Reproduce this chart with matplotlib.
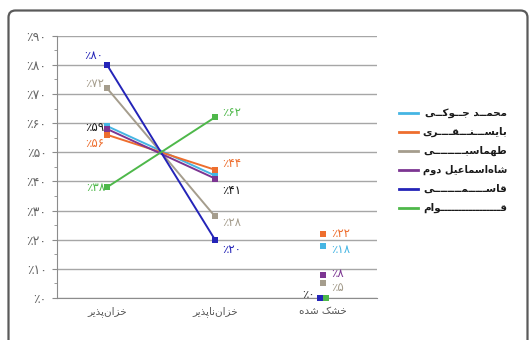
import matplotlib
matplotlib.use("Agg")
import matplotlib.pyplot as plt
from matplotlib.patches import PathPatch
from matplotlib.path import Path
from matplotlib.lines import Line2D
from matplotlib.transforms import IdentityTransform, ScaledTranslation

plt.rcParams['font.family'] = ['DejaVu Sans']

# ---------------- data ----------------
categories = ["خزان‌پذیر", "خزان‌ناپذیر", "خشک شده"]
series_names = ["محمـد جـوکـی", "بایسـنـقـــری", "طهماسبــــی",
                "شاه‌اسماعیل دوم", "قاسـمــــی", "قـــــوام"]
cyan_vals   = [59, 42, 18]
orange_vals = [56, 44, 22]
gray_vals   = [72, 28, 5]
purple_vals = [58, 41, 8]
blue_vals   = [80, 20, 0]
green_vals  = [38, 62, 0]
colors = ["#45b5e3", "#ee6e2e", "#a59d8d", "#7c3592", "#2424b8", "#4eb84a"]
y_ticks = [0, 10, 20, 30, 40, 50, 60, 70, 80, 90]

# ---------------- minimal Persian shaping ----------------
_F = {
    'ا': ('\uFE8D', '\uFE8E', None, None),
    'ب': ('\uFE8F', '\uFE90', '\uFE91', '\uFE92'),
    'پ': ('\uFB56', '\uFB57', '\uFB58', '\uFB59'),
    'ج': ('\uFE9D', '\uFE9E', '\uFE9F', '\uFEA0'),
    'ح': ('\uFEA1', '\uFEA2', '\uFEA3', '\uFEA4'),
    'خ': ('\uFEA5', '\uFEA6', '\uFEA7', '\uFEA8'),
    'د': ('\uFEA9', '\uFEAA', None, None),
    'ذ': ('\uFEAB', '\uFEAC', None, None),
    'ر': ('\uFEAD', '\uFEAE', None, None),
    'ز': ('\uFEAF', '\uFEB0', None, None),
    'س': ('\uFEB1', '\uFEB2', '\uFEB3', '\uFEB4'),
    'ش': ('\uFEB5', '\uFEB6', '\uFEB7', '\uFEB8'),
    'ط': ('\uFEC1', '\uFEC2', '\uFEC3', '\uFEC4'),
    'ع': ('\uFEC9', '\uFECA', '\uFECB', '\uFECC'),
    'ق': ('\uFED5', '\uFED6', '\uFED7', '\uFED8'),
    'ک': ('\uFB8E', '\uFB8F', '\uFB90', '\uFB91'),
    'ل': ('\uFEDD', '\uFEDE', '\uFEDF', '\uFEE0'),
    'م': ('\uFEE1', '\uFEE2', '\uFEE3', '\uFEE4'),
    'ن': ('\uFEE5', '\uFEE6', '\uFEE7', '\uFEE8'),
    'و': ('\uFEED', '\uFEEE', None, None),
    'ه': ('\uFEE9', '\uFEEA', '\uFEEB', '\uFEEC'),
    'ی': ('\uFBFC', '\uFBFD', '\uFBFE', '\uFBFF'),
    'ـ': ('\u0640', '\u0640', '\u0640', '\u0640'),
}


def shape(text):
    out = []
    n = len(text)
    for i, c in enumerate(text):
        if c not in _F:
            if c != '\u200c':
                out.append(c)
            continue
        f = _F[c]
        prev_c = text[i - 1] if i > 0 else None
        next_c = text[i + 1] if i < n - 1 else None
        jp = prev_c in _F and _F[prev_c][2] is not None
        jn = f[2] is not None and next_c in _F
        if jp and jn:
            out.append(f[3])
        elif jp:
            out.append(f[1])
        elif jn:
            out.append(f[2])
        else:
            out.append(f[0])
    return ''.join(reversed(out))


FA_DIGITS = '۰۱۲۳۴۵۶۷۸۹'


def fa_pct(v):
    return '٪' + ''.join(FA_DIGITS[int(d)] for d in str(int(v)))


# ---------------- figure ----------------
W, H = 532, 340
fig = plt.figure(figsize=(W / 100, H / 100), dpi=100)
fig.patch.set_facecolor('white')

# frame (rounded top corners, open at the bottom, runs off the image)
L, R, T, B, r = 8.5, 527.5, 329.5, 0.0, 7
verts = [(L, B), (L, T - r), (L, T), (L + r, T), (R - r, T), (R, T), (R, T - r), (R, B)]
codes = [Path.MOVETO, Path.LINETO, Path.CURVE3, Path.CURVE3, Path.LINETO,
         Path.CURVE3, Path.CURVE3, Path.LINETO]
fig.add_artist(PathPatch(Path(verts, codes), transform=IdentityTransform(), fill=False,
                         edgecolor='#5a5a5a', linewidth=1.6, clip_on=False))

ax = fig.add_axes([57 / W, (H - 298) / H, 320 / W, (298 - 35.7) / H])
ax.set_xlim(-0.463, 2.5)
ax.set_ylim(0, 90)
ax.set_facecolor('none')

for s in ['top', 'right']:
    ax.spines[s].set_visible(False)
ax.spines['left'].set_color('#8c8c8c')
ax.spines['bottom'].set_color('#8c8c8c')

ax.set_yticks(y_ticks)
ax.set_yticklabels([fa_pct(v) for v in y_ticks])
ax.set_yticks([v + 5 for v in y_ticks[:-1]], minor=True)
ax.tick_params(axis='y', which='major', length=3.5, color='#8c8c8c', labelsize=9,
               labelcolor='#666666', pad=4)
ax.tick_params(axis='y', which='minor', length=2, color='#8c8c8c')
ax.yaxis.grid(True, which='major', color='#a6a6a6', linewidth=1.0)
ax.set_axisbelow(True)

ax.set_xticks(range(len(categories)))
ax.set_xticklabels([shape(c) for c in categories])
ax.tick_params(axis='x', length=0, labelsize=7.5, labelcolor='#555555', pad=6)

all_vals = [cyan_vals, orange_vals, gray_vals, purple_vals, blue_vals, green_vals]
xs = list(range(len(categories)))
third_shift = [0, 0, 0, 0, -3, 3]
for vals, col, sh in zip(all_vals, colors, third_shift):
    ax.plot(xs[:2], vals[:2], color=col, lw=1.4, marker='s', markersize=3.8,
            markeredgewidth=0, zorder=3)
    tr = ax.transData + ScaledTranslation(sh / 100, 0, fig.dpi_scale_trans)
    ax.plot(xs[2:], vals[2:], linestyle='none', color=col, marker='s',
            markersize=3.8, markeredgewidth=0, transform=tr, zorder=4, clip_on=False)

# data labels: (series index, category index, dx px, dy px, ha, color)
lab = [
    (4, 0, -4, 9, 'right', colors[4]),
    (2, 0, -3, 5, 'right', colors[2]),
    (0, 0, -3, -1, 'right', '#1a1a1a'),
    (1, 0, -3, -9, 'right', colors[1]),
    (5, 0, -2, 0, 'right', colors[5]),
    (5, 1, 7, 5, 'left', colors[5]),
    (1, 1, 7, 6, 'left', colors[1]),
    (3, 1, 7, -12, 'left', '#1a1a1a'),
    (2, 1, 7, -6, 'left', colors[2]),
    (4, 1, 7, -10, 'left', colors[4]),
    (1, 2, 8, 0, 'left', colors[1]),
    (0, 2, 8, -4, 'left', colors[0]),
    (3, 2, 8, 1, 'left', colors[3]),
    (2, 2, 8, -4, 'left', colors[2]),
    (4, 2, -8, 3, 'right', '#333333'),
]
for si, ci, dx, dy, ha, col in lab:
    v = all_vals[si][ci]
    ax.annotate(fa_pct(v), (xs[ci], v), xytext=(dx * 0.72, dy * 0.72),
                textcoords='offset points', ha=ha, va='center', fontsize=8.5,
                color=col, annotation_clip=False, zorder=6)

# legend (right-to-left layout: handle on left, text justified with kashida)
row_y = [113, 132, 151, 170, 189, 208]
TEXT_RIGHT, TEXT_W = 507, 84
renderer = fig.canvas.get_renderer()
for name, col, yy in zip(series_names, colors, row_y):
    fy = (H - yy) / H
    fig.add_artist(Line2D([399 / W, 418 / W], [fy, fy], color=col, lw=2.0,
                          transform=fig.transFigure))
    t = fig.text(TEXT_RIGHT / W, fy, shape(name), ha='right', va='center', fontsize=7.5,
                 fontweight='bold', color='#1a1a1a')
    # kashida justification: lengthen tatweel runs until the text fills the width
    s = name
    runs = [i for i, c in enumerate(s) if c == 'ـ' and (i + 1 >= len(s) or s[i + 1] != 'ـ')]
    k = 0
    while runs and t.get_window_extent(renderer).width < TEXT_W - 2 and k < 40:
        pos = runs[k % len(runs)]
        s = s[:pos] + 'ـ' + s[pos:]
        runs = [i for i, c in enumerate(s) if c == 'ـ' and (i + 1 >= len(s) or s[i + 1] != 'ـ')]
        t.set_text(shape(s))
        k += 1
    w = t.get_window_extent(renderer).width
    if w > TEXT_W + 2:
        t.set_fontsize(7.5 * TEXT_W / w)

fig.savefig('out.png', dpi=100, facecolor='white')
